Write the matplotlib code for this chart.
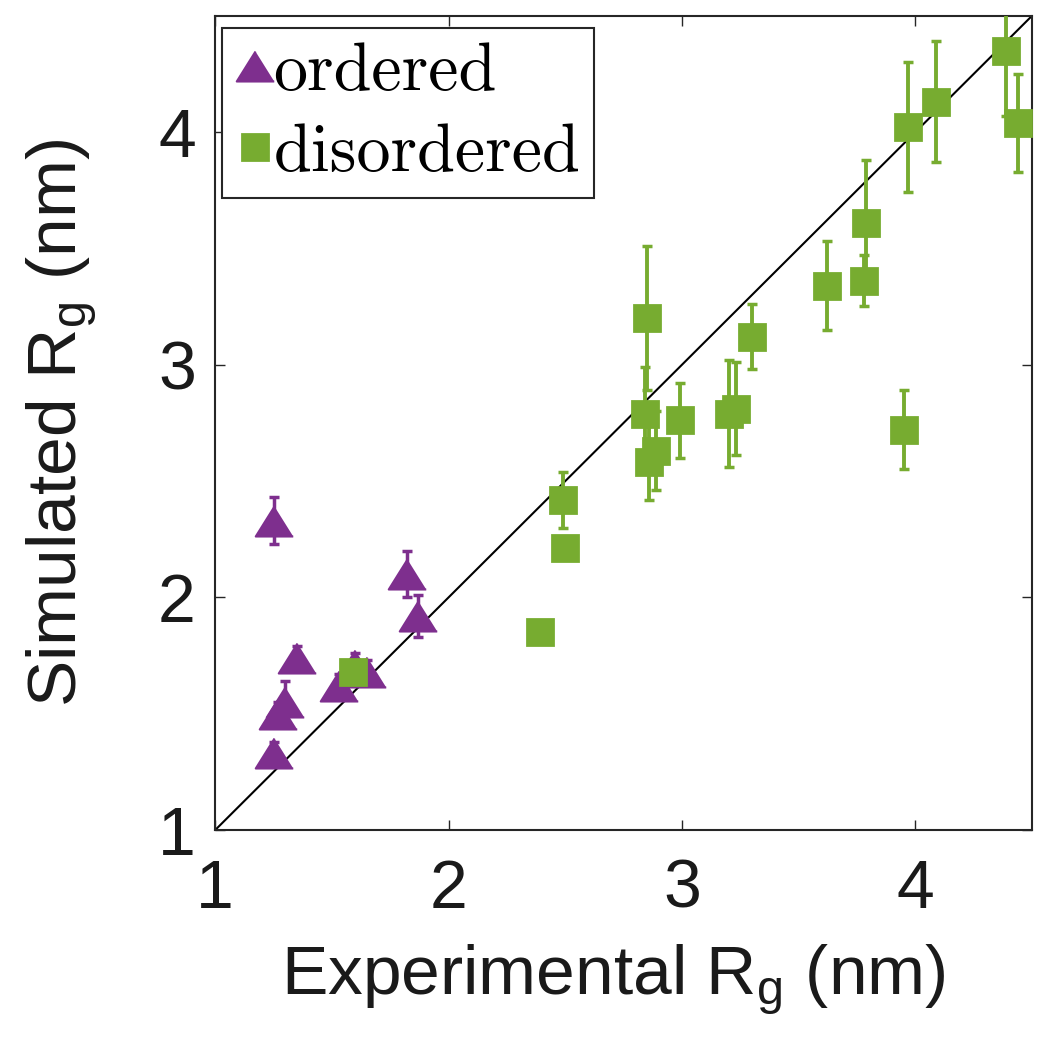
import matplotlib
matplotlib.use('Agg')
import matplotlib.pyplot as plt
import numpy as np

plt.rcParams['font.family'] = ['Liberation Sans', 'DejaVu Sans']
plt.rcParams['mathtext.default'] = 'regular'

# ordered (triangles)
ord_x = [1.25, 1.82, 1.87, 1.35, 1.60, 1.65, 1.53, 1.30, 1.27, 1.25]
ord_y = [2.33, 2.10, 1.92, 1.74, 1.71, 1.68, 1.62, 1.55, 1.50, 1.33]
ord_err = [0.10, 0.10, 0.09, 0.05, 0.05, 0.05, 0.05, 0.09, 0.05, 0.05]

# disordered (squares)
dis_x = [1.59, 2.39, 2.50, 2.49, 2.84, 2.85, 2.86, 2.89, 2.99, 3.20, 3.23,
         3.30, 3.62, 3.78, 3.79, 3.95, 3.97, 4.09, 4.39, 4.44]
dis_y = [1.68, 1.85, 2.21, 2.42, 2.79, 3.20, 2.58, 2.63, 2.76, 2.79, 2.81,
         3.12, 3.34, 3.36, 3.61, 2.72, 4.02, 4.13, 4.35, 4.04]
dis_err = [0.0, 0.0, 0.0, 0.12, 0.20, 0.31, 0.16, 0.17, 0.16, 0.23, 0.20,
           0.14, 0.19, 0.11, 0.27, 0.17, 0.28, 0.26, 0.28, 0.21]

diag = [1, 4.5]

purple = '#7E2F8E'
green = '#77AC30'

fig = plt.figure(figsize=(10.5, 10.44), dpi=100)
ax = fig.add_axes([0.205, 0.205, 0.778, 0.780])

ax.plot(diag, diag, color='black', lw=1.5, zorder=1)

tri = [(0, 0.8), (-1, -0.8), (1, -0.8)]
ax.errorbar(ord_x, ord_y, yerr=ord_err, fmt='none', ecolor=purple,
            elinewidth=2.5, capsize=3.6, capthick=2.5, zorder=2)
ax.plot(ord_x, ord_y, ls='none', marker=tri, ms=27, color=purple,
        mec=purple, mew=1.5, label='ordered', zorder=3)

ax.errorbar(dis_x, dis_y, yerr=dis_err, fmt='none', ecolor=green,
            elinewidth=2.8, capsize=3.6, capthick=2.5, zorder=4)
ax.plot(dis_x, dis_y, ls='none', marker='s', ms=19, color=green,
        mec=green, mew=2, label='disordered', zorder=5)

ax.set_xlim(1, 4.5)
ax.set_ylim(1, 4.5)
ax.set_xticks([1, 2, 3, 4])
ax.set_yticks([1, 2, 3, 4])
ax.tick_params(direction='in', top=True, right=True, length=7, width=1,
               labelsize=49, colors='0.15', labelcolor='0.1')
ax.tick_params(axis='x', pad=20)
ax.tick_params(axis='y', pad=14)
for sp in ax.spines.values():
    sp.set_linewidth(1.5)
    sp.set_color('0.15')

ax.set_xlabel('Experimental R$_\\mathregular{g}$ (nm)', fontsize=50,
              color='0.1')
ax.set_ylabel('Simulated R$_\\mathregular{g}$ (nm)', fontsize=50,
              color='0.1')
ax.xaxis.set_label_coords(0.487, -0.137)
ax.yaxis.set_label_coords(-0.142, 0.5)

leg = ax.legend(loc='upper left', bbox_to_anchor=(0.0086, 0.985),
                borderaxespad=0, prop={'family': 'cmr10', 'size': 49},
                handlelength=0.55, handletextpad=0.0, borderpad=0.2,
                labelspacing=0.3, fancybox=False,
                framealpha=1, markerscale=1.0)
leg.get_frame().set_edgecolor('0.15')
leg.get_frame().set_linewidth(1.5)

fig.savefig('out.png', dpi=100)
